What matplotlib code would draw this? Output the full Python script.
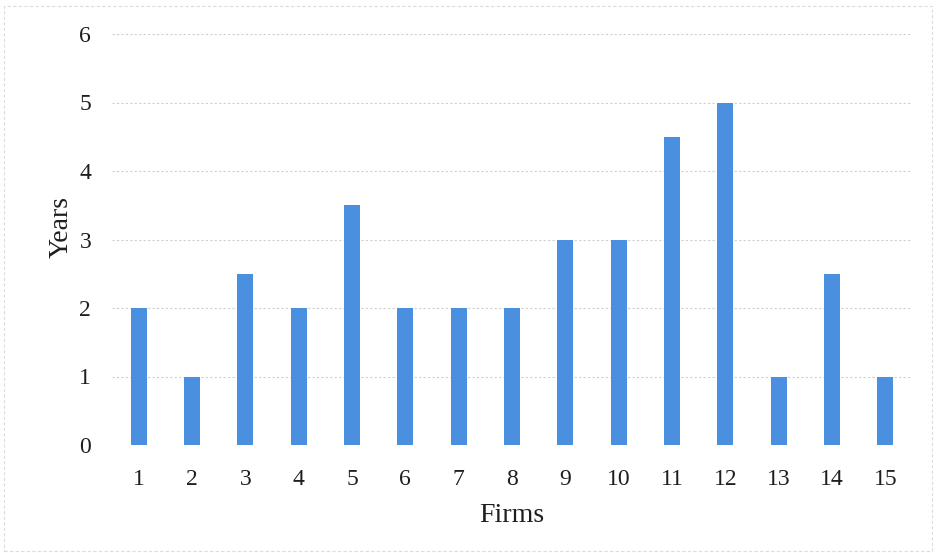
import matplotlib
matplotlib.use("Agg")
import matplotlib.pyplot as plt
from matplotlib.patches import Rectangle

firms = [str(i) for i in range(1, 16)]
years = [2, 1, 2.5, 2, 3.5, 2, 2, 2, 3, 3, 4.5, 5, 1, 2.5, 1]
yticks = [0, 1, 2, 3, 4, 5, 6]

plt.rcParams["font.family"] = ["Liberation Serif", "DejaVu Serif"]

fig = plt.figure(figsize=(9.36, 5.53), dpi=100)
ax = fig.add_axes([112 / 936, 1 - 445 / 553, (912 - 112) / 936, (445 - 34) / 553])

x = list(range(1, len(firms) + 1))
ax.bar(x, years, width=0.3, color="#4a8fe0", zorder=3)

ax.set_xlim(0.5, len(firms) + 0.5)
ax.set_ylim(0, 6)
ax.set_yticks(yticks)
ax.set_xticks(x)
ax.set_xticklabels(firms)
ax.tick_params(axis="both", length=0, labelsize=17, colors="#1e1e1e")
ax.tick_params(axis="x", pad=17)
ax.tick_params(axis="y", pad=15)
ax.grid(axis="y", color="#cfcfcf", linestyle=(0, (2, 2)), linewidth=0.8, zorder=0)
for s in ax.spines.values():
    s.set_visible(False)

ax.set_xlabel("Firms", fontsize=20, color="#1e1e1e", va="center")
ax.set_ylabel("Years", fontsize=20, color="#1e1e1e", va="center")
ax.xaxis.set_label_coords(0.5, -0.172)
ax.yaxis.set_label_coords(-0.063, 0.53)

# faint outer frame of the chart area
fig.patches.append(Rectangle((0.004, 0.004), 0.992, 0.985, transform=fig.transFigure,
                             fill=False, edgecolor="#dcdcdc", linewidth=0.8,
                             linestyle=(0, (3, 2))))

fig.savefig("out.png", dpi=100)
